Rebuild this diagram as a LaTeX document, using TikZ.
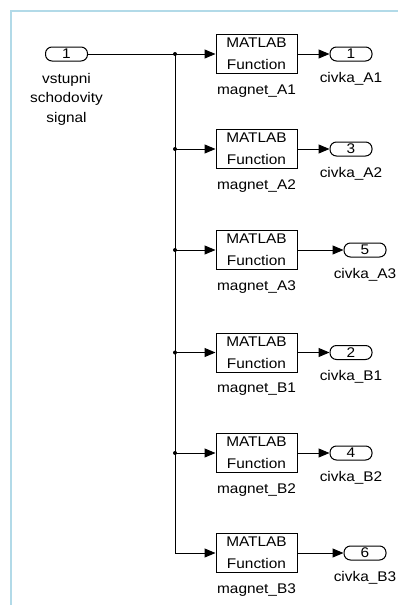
\documentclass[tikz,border=0pt]{standalone}
\usepackage{fontspec}
\setmainfont{Liberation Sans}[FakeStretch=1.1]
\usetikzlibrary{arrows.meta}
\definecolor{framecol}{RGB}{178,218,232}
\begin{document}
\begin{tikzpicture}[x=1pt,y=-1pt,
  every node/.style={font=\fontsize{14}{21.7}\selectfont},
  blk/.style={draw, line width=1pt, minimum width=81pt, minimum height=39pt, inner sep=0pt, align=center},
  port/.style={draw, line width=1pt, rounded corners=6.5pt, minimum width=42pt, minimum height=14pt, inner sep=0pt},
  lbl/.style={inner sep=0pt, anchor=base},
  wire/.style={line width=1pt},
  arr/.style={wire, -{Triangle[length=11pt,width=9pt]}},
  jdot/.style={circle, fill, inner sep=0pt, minimum size=4pt},
  frame/.style={draw=framecol, line width=2pt}]
\useasboundingbox (0,0) rectangle (398,605);
\draw[frame] (11,605) -- (11,10.5) -- (398,10.5);
% input port
\node[port] (in) at (66.5,54) {1};
\node[lbl] (inl1) at (66.5,83) {vstupni};
\node[lbl] (inl2) at (66.5,102.5) {schodovity};
\node[lbl] (inl3) at (66.5,122) {signal};
\foreach \i/\y/\n/\name/\px in {1/54/1/A1/351, 2/149/3/A2/351, 3/250/5/A3/365, 4/352.5/2/B1/351, 5/453/4/B2/351, 6/553/6/B3/365} {
  \node[blk] (b\i) at (256.5,\y) {MATLAB\\Function};
  \node[lbl] (m\i) at (256.5,\y+40) {magnet\_\name};
  \node[port] (o\i) at (\px,\y) {\n};
  \node[lbl] (c\i) at (\px,\y+28) {civka\_\name};
  \coordinate (j\i) at (175,\y);
  \draw[arr] (j\i) -- (b\i.west);
  \draw[arr] (b\i.east) -- (o\i.west);
}
\draw[wire] (in.east) -- (j1);
\draw[wire] (j1) -- (j6);
\foreach \i in {1,...,5} { \node[jdot] (d\i) at (j\i) {}; }
\end{tikzpicture}
\end{document}
